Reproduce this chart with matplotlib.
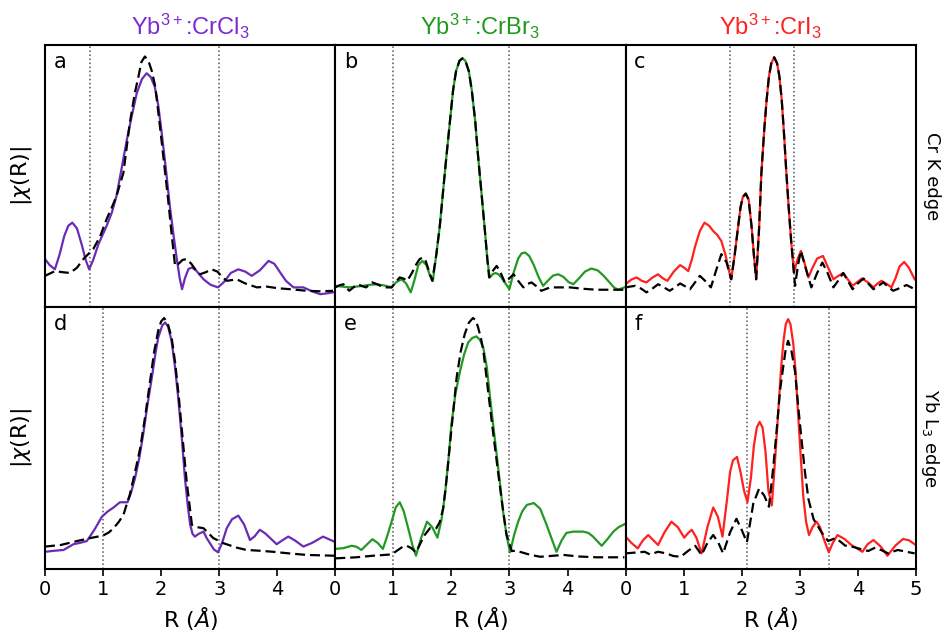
import numpy as np
import matplotlib.pyplot as plt

plt.rcParams['mathtext.fontset'] = 'dejavusans'
plt.rcParams['mathtext.rm'] = 'Liberation Sans'
plt.rcParams['mathtext.it'] = 'Liberation Sans:italic'

# Compounds (column titles) and edges (row labels)
compounds = ['Yb$^{\\mathregular{3+}}$:CrCl$_{\\mathregular{3}}$',
             'Yb$^{\\mathregular{3+}}$:CrBr$_{\\mathregular{3}}$',
             'Yb$^{\\mathregular{3+}}$:CrI$_{\\mathregular{3}}$']
colours = ['#6a2bb5', '#229922', '#ff2020']
title_colours = ['#7b2ad6', '#1f9a1f', '#ff2020']
edges = ['Cr K edge', 'Yb L$_3$ edge']
letters = ['a', 'b', 'c', 'd', 'e', 'f']

# Fit window limits (R, in Angstrom)
win_a = [0.78, 3.0]
win_b = [1.0, 3.0]
win_c = [1.8, 2.91]
win_d = [1.0, 3.0]
win_e = [1.0, 3.0]
win_f = [2.1, 3.5]

# |chi(R)| normalised to panel height: data (solid) and fit (dashed)
a_dat_r = [0, 0.08, 0.17, 0.25, 0.33, 0.40, 0.47, 0.55, 0.63, 0.70, 0.76, 0.83, 0.92, 1.06, 1.15,
           1.23, 1.32, 1.41, 1.50, 1.58, 1.67, 1.75, 1.82, 1.89, 1.95, 2.01, 2.08, 2.15, 2.21,
           2.27, 2.32, 2.36, 2.41, 2.47, 2.53, 2.6, 2.73, 2.85, 2.98, 3.08, 3.2, 3.33, 3.45, 3.56,
           3.7, 3.85, 3.95, 4.05, 4.15, 4.28, 4.45, 4.6, 4.74, 4.85, 4.96]
a_dat_y = [0.183, 0.16, 0.144, 0.2, 0.27, 0.31, 0.322, 0.30, 0.24, 0.18, 0.144, 0.18, 0.24, 0.309,
           0.36, 0.423, 0.53, 0.639, 0.735, 0.816, 0.87, 0.892, 0.878, 0.841, 0.77, 0.664, 0.53,
           0.385, 0.28, 0.183, 0.11, 0.068, 0.11, 0.145, 0.151, 0.14, 0.106, 0.085, 0.075, 0.095,
           0.13, 0.144, 0.135, 0.119, 0.14, 0.176, 0.165, 0.132, 0.1, 0.075, 0.075, 0.06, 0.049,
           0.052, 0.056]
a_fit_r = [0, 0.17, 0.3, 0.43, 0.55, 0.66, 0.83, 0.95, 1.06, 1.15, 1.23, 1.35, 1.46, 1.55, 1.61,
           1.66, 1.72, 1.78, 1.84, 1.9, 1.98, 2.05, 2.12, 2.18, 2.24, 2.3, 2.37, 2.44, 2.52, 2.6,
           2.67, 2.77, 2.87, 2.97, 3.05, 3.13, 3.22, 3.3, 3.45, 3.65, 3.82, 4.0, 4.22, 4.51, 4.75,
           4.96]
a_fit_y = [0.119, 0.137, 0.133, 0.13, 0.15, 0.183, 0.221, 0.27, 0.335, 0.38, 0.423, 0.512, 0.702,
           0.82, 0.88, 0.935, 0.956, 0.94, 0.9, 0.84, 0.689, 0.55, 0.411, 0.28, 0.157, 0.165, 0.18,
           0.183, 0.165, 0.14, 0.125, 0.133, 0.144, 0.135, 0.115, 0.1, 0.103, 0.106, 0.09, 0.075,
           0.078, 0.072, 0.068, 0.062, 0.06, 0.062]

b_dat_r = [0, 0.12, 0.24, 0.36, 0.48, 0.6, 0.71, 0.85, 0.97, 1.05, 1.14, 1.22, 1.3, 1.36, 1.43,
           1.5, 1.57, 1.63, 1.68, 1.74, 1.8, 1.86, 1.92, 1.98, 2.03, 2.08, 2.14, 2.19, 2.24, 2.3,
           2.35, 2.41, 2.46, 2.52, 2.58, 2.62, 2.66, 2.71, 2.76, 2.81, 2.86, 2.93, 3.0, 3.07, 3.15,
           3.21, 3.27, 3.34, 3.42, 3.5, 3.58, 3.66, 3.75, 3.84, 3.93, 4.02, 4.1, 4.2, 4.3, 4.41,
           4.52, 4.62, 4.72, 4.8, 4.87, 4.98]
b_dat_y = [0.081, 0.078, 0.075, 0.078, 0.081, 0.085, 0.087, 0.082, 0.075, 0.095, 0.106, 0.09, 0.056,
           0.1, 0.16, 0.176, 0.16, 0.12, 0.1, 0.2, 0.309, 0.45, 0.588, 0.72, 0.829, 0.9, 0.94,
           0.949, 0.94, 0.9, 0.829, 0.71, 0.575, 0.43, 0.284, 0.18, 0.113, 0.125, 0.13, 0.125,
           0.113, 0.09, 0.068, 0.13, 0.185, 0.205, 0.208, 0.195, 0.16, 0.115, 0.081, 0.1, 0.12,
           0.125, 0.115, 0.095, 0.087, 0.11, 0.135, 0.147, 0.14, 0.12, 0.095, 0.075, 0.066, 0.075]
b_fit_r = [0, 0.07, 0.14, 0.24, 0.38, 0.46, 0.53, 0.64, 0.74, 0.84, 0.97, 1.04, 1.11, 1.18, 1.24,
           1.32, 1.4, 1.45, 1.5, 1.55, 1.61, 1.67, 1.74, 1.8, 1.86, 1.92, 1.98, 2.03, 2.08, 2.14,
           2.19, 2.24, 2.3, 2.35, 2.41, 2.46, 2.52, 2.58, 2.62, 2.65, 2.72, 2.78, 2.85, 2.92, 3.0,
           3.07, 3.15, 3.24, 3.31, 3.38, 3.46, 3.55, 3.7, 3.85, 4.04, 4.25, 4.5, 4.75, 4.98]
b_fit_y = [0.075, 0.083, 0.087, 0.062, 0.087, 0.08, 0.075, 0.094, 0.085, 0.075, 0.075, 0.095, 0.113,
           0.108, 0.1, 0.13, 0.165, 0.182, 0.189, 0.18, 0.14, 0.1, 0.2, 0.309, 0.45, 0.588, 0.72,
           0.829, 0.9, 0.94, 0.949, 0.94, 0.9, 0.829, 0.71, 0.575, 0.43, 0.284, 0.18, 0.113, 0.14,
           0.157, 0.13, 0.094, 0.11, 0.125, 0.1, 0.075, 0.088, 0.094, 0.08, 0.062, 0.075, 0.075,
           0.075, 0.07, 0.066, 0.066, 0.066]

c_dat_r = [0, 0.1, 0.19, 0.28, 0.36, 0.46, 0.56, 0.64, 0.72, 0.83, 0.94, 1.01, 1.08, 1.14, 1.2,
           1.28, 1.36, 1.44, 1.51, 1.58, 1.65, 1.72, 1.78, 1.82, 1.88, 1.94, 1.98, 2.02, 2.07, 2.12,
           2.17, 2.21, 2.25, 2.3, 2.34, 2.39, 2.43, 2.47, 2.51, 2.56, 2.61, 2.65, 2.69, 2.73, 2.77,
           2.81, 2.85, 2.9, 2.96, 3.02, 3.08, 3.15, 3.22, 3.3, 3.4, 3.49, 3.58, 3.66, 3.75, 3.83,
           3.91, 3.99, 4.07, 4.17, 4.27, 4.34, 4.41, 4.5, 4.58, 4.65, 4.72, 4.8, 4.88, 4.98]
c_dat_y = [0.087, 0.105, 0.113, 0.1, 0.094, 0.112, 0.125, 0.11, 0.1, 0.135, 0.16, 0.15, 0.137, 0.18,
           0.233, 0.29, 0.322, 0.31, 0.29, 0.275, 0.252, 0.2, 0.14, 0.106, 0.2, 0.309, 0.38, 0.42,
           0.433, 0.41, 0.309, 0.2, 0.106, 0.3, 0.512, 0.68, 0.791, 0.88, 0.93, 0.953, 0.93, 0.88,
           0.791, 0.66, 0.512, 0.38, 0.259, 0.132, 0.18, 0.214, 0.17, 0.113, 0.15, 0.185, 0.195,
           0.15, 0.106, 0.118, 0.13, 0.105, 0.081, 0.095, 0.109, 0.095, 0.075, 0.09, 0.1, 0.088,
           0.075, 0.11, 0.155, 0.172, 0.15, 0.106]
c_fit_r = [0, 0.08, 0.17, 0.27, 0.36, 0.46, 0.56, 0.66, 0.76, 0.85, 0.94, 1.02, 1.11, 1.2, 1.28,
           1.37, 1.47, 1.56, 1.65, 1.74, 1.82, 1.88, 1.94, 1.98, 2.02, 2.07, 2.12, 2.17, 2.21, 2.25,
           2.3, 2.34, 2.39, 2.43, 2.47, 2.51, 2.56, 2.61, 2.65, 2.69, 2.73, 2.77, 2.81, 2.85, 2.92,
           2.97, 3.02, 3.1, 3.2, 3.3, 3.39, 3.48, 3.58, 3.66, 3.75, 3.83, 3.91, 4.0, 4.1, 4.18,
           4.27, 4.35, 4.44, 4.52, 4.61, 4.72, 4.84, 4.98]
c_fit_y = [0.075, 0.078, 0.081, 0.07, 0.056, 0.07, 0.087, 0.075, 0.062, 0.075, 0.09, 0.08, 0.068,
           0.095, 0.119, 0.1, 0.075, 0.14, 0.202, 0.17, 0.106, 0.2, 0.309, 0.38, 0.42, 0.433, 0.41,
           0.309, 0.2, 0.106, 0.3, 0.512, 0.68, 0.791, 0.88, 0.93, 0.953, 0.93, 0.88, 0.791, 0.66,
           0.512, 0.38, 0.259, 0.081, 0.16, 0.214, 0.15, 0.075, 0.13, 0.17, 0.13, 0.075, 0.1, 0.13,
           0.1, 0.068, 0.09, 0.109, 0.09, 0.068, 0.08, 0.094, 0.078, 0.062, 0.072, 0.084, 0.068]

d_dat_r = [0, 0.16, 0.32, 0.49, 0.6, 0.72, 0.85, 0.98, 1.08, 1.18, 1.29, 1.42, 1.48, 1.55, 1.62,
           1.69, 1.76, 1.84, 1.9, 1.95, 2.02, 2.07, 2.12, 2.18, 2.24, 2.3, 2.36, 2.41, 2.46, 2.5,
           2.54, 2.58, 2.65, 2.73, 2.78, 2.84, 2.91, 2.98, 3.05, 3.13, 3.22, 3.33, 3.43, 3.53, 3.61,
           3.7, 3.8, 3.99, 4.09, 4.19, 4.3, 4.45, 4.6, 4.79, 4.98]
d_dat_y = [0.066, 0.07, 0.073, 0.095, 0.1, 0.107, 0.15, 0.2, 0.22, 0.235, 0.255, 0.255, 0.29, 0.347,
           0.42, 0.513, 0.62, 0.731, 0.82, 0.884, 0.93, 0.941, 0.925, 0.87, 0.77, 0.641, 0.49,
           0.347, 0.24, 0.169, 0.135, 0.124, 0.135, 0.143, 0.12, 0.099, 0.075, 0.064, 0.1, 0.156,
           0.19, 0.204, 0.17, 0.111, 0.125, 0.15, 0.135, 0.095, 0.11, 0.124, 0.11, 0.086, 0.1,
           0.124, 0.105]
d_fit_r = [0, 0.27, 0.55, 0.77, 1.0, 1.1, 1.18, 1.27, 1.35, 1.46, 1.55, 1.64, 1.73, 1.81, 1.88,
           1.95, 2.0, 2.05, 2.11, 2.18, 2.24, 2.3, 2.37, 2.44, 2.53, 2.62, 2.73, 2.9, 3.07, 3.3,
           3.47, 3.7, 3.93, 4.2, 4.51, 4.98]
d_fit_y = [0.086, 0.092, 0.107, 0.118, 0.128, 0.14, 0.156, 0.18, 0.207, 0.284, 0.37, 0.462, 0.59,
           0.718, 0.83, 0.91, 0.945, 0.958, 0.94, 0.884, 0.79, 0.667, 0.5, 0.334, 0.169, 0.16,
           0.156, 0.118, 0.099, 0.082, 0.073, 0.07, 0.066, 0.06, 0.054, 0.051]

e_dat_r = [0, 0.14, 0.28, 0.37, 0.45, 0.55, 0.64, 0.73, 0.82, 0.9, 0.97, 1.04, 1.11, 1.18, 1.26,
           1.33, 1.39, 1.48, 1.58, 1.67, 1.76, 1.83, 1.89, 1.95, 2.0, 2.07, 2.15, 2.22, 2.29, 2.36,
           2.43, 2.49, 2.55, 2.61, 2.66, 2.72, 2.78, 2.84, 2.89, 2.95, 3.01, 3.08, 3.15, 3.22, 3.3,
           3.42, 3.53, 3.64, 3.72, 3.81, 3.9, 3.98, 4.1, 4.27, 4.36, 4.44, 4.52, 4.59, 4.69, 4.79,
           4.88, 4.98]
e_dat_y = [0.077, 0.08, 0.089, 0.085, 0.073, 0.095, 0.114, 0.1, 0.077, 0.13, 0.181, 0.235, 0.255,
           0.22, 0.152, 0.09, 0.051, 0.12, 0.181, 0.16, 0.12, 0.19, 0.284, 0.42, 0.552, 0.67, 0.756,
           0.82, 0.865, 0.882, 0.888, 0.875, 0.845, 0.77, 0.667, 0.55, 0.437, 0.32, 0.22, 0.13,
           0.064, 0.13, 0.181, 0.22, 0.245, 0.252, 0.23, 0.169, 0.12, 0.066, 0.11, 0.138, 0.143,
           0.143, 0.138, 0.124, 0.105, 0.089, 0.115, 0.143, 0.16, 0.171]
e_fit_r = [0, 0.36, 0.65, 0.97, 1.08, 1.16, 1.23, 1.31, 1.39, 1.47, 1.54, 1.63, 1.74, 1.8, 1.86,
           1.92, 1.98, 2.04, 2.09, 2.16, 2.23, 2.3, 2.37, 2.42, 2.46, 2.51, 2.55, 2.6, 2.66, 2.73,
           2.81, 2.88, 2.95, 3.04, 3.12, 3.21, 3.35, 3.53, 3.7, 3.93, 4.2, 4.51, 4.98]
e_fit_y = [0.041, 0.045, 0.051, 0.056, 0.073, 0.085, 0.089, 0.08, 0.064, 0.1, 0.13, 0.156, 0.156,
           0.18, 0.233, 0.35, 0.488, 0.62, 0.731, 0.83, 0.897, 0.94, 0.958, 0.95, 0.922, 0.88,
           0.833, 0.74, 0.628, 0.5, 0.36, 0.24, 0.13, 0.069, 0.07, 0.064, 0.055, 0.047, 0.05,
           0.054, 0.048, 0.045, 0.045]

f_dat_r = [0, 0.1, 0.21, 0.3, 0.39, 0.48, 0.56, 0.67, 0.79, 0.9, 1.01, 1.08, 1.14, 1.22, 1.31,
           1.41, 1.51, 1.59, 1.67, 1.75, 1.8, 1.85, 1.92, 1.98, 2.04, 2.1, 2.16, 2.21, 2.26, 2.31,
           2.36, 2.41, 2.46, 2.52, 2.57, 2.63, 2.68, 2.72, 2.76, 2.8, 2.84, 2.89, 2.93, 2.97, 3.02,
           3.06, 3.11, 3.16, 3.22, 3.29, 3.35, 3.41, 3.5, 3.57, 3.65, 3.77, 3.89, 4.08, 4.17, 4.27,
           4.4, 4.51, 4.65, 4.78, 4.88, 4.98]
f_dat_y = [0.124, 0.1, 0.079, 0.11, 0.13, 0.11, 0.092, 0.14, 0.181, 0.16, 0.12, 0.138, 0.15, 0.12,
           0.06, 0.16, 0.235, 0.2, 0.124, 0.27, 0.37, 0.415, 0.428, 0.37, 0.3, 0.255, 0.35, 0.47,
           0.54, 0.562, 0.54, 0.45, 0.3, 0.243, 0.4, 0.6, 0.77, 0.87, 0.935, 0.954, 0.935, 0.858,
           0.75, 0.6, 0.42, 0.281, 0.18, 0.13, 0.16, 0.181, 0.16, 0.118, 0.064, 0.1, 0.13, 0.115,
           0.092, 0.066, 0.095, 0.111, 0.085, 0.051, 0.09, 0.115, 0.11, 0.095]
f_fit_r = [0, 0.11, 0.22, 0.33, 0.42, 0.56, 0.7, 0.82, 0.95, 1.08, 1.2, 1.31, 1.41, 1.51, 1.6,
           1.68, 1.8, 1.91, 2.0, 2.09, 2.2, 2.3, 2.39, 2.47, 2.54, 2.6, 2.66, 2.72, 2.76, 2.8, 2.86,
           2.92, 2.97, 3.03, 3.09, 3.15, 3.24, 3.38, 3.49, 3.61, 3.7, 3.78, 3.95, 4.07, 4.18, 4.3,
           4.41, 4.52, 4.69, 4.84, 4.98]
f_fit_y = [0.06, 0.062, 0.064, 0.066, 0.056, 0.066, 0.06, 0.05, 0.047, 0.07, 0.089, 0.054, 0.1,
           0.13, 0.1, 0.06, 0.14, 0.192, 0.15, 0.102, 0.25, 0.307, 0.28, 0.238, 0.38, 0.523, 0.68,
           0.779, 0.84, 0.871, 0.83, 0.753, 0.63, 0.497, 0.37, 0.267, 0.19, 0.139, 0.107, 0.118,
           0.105, 0.09, 0.083, 0.075, 0.069, 0.082, 0.072, 0.06, 0.073, 0.066, 0.06]

panels = [(a_dat_r, a_dat_y, a_fit_r, a_fit_y, win_a),
          (b_dat_r, b_dat_y, b_fit_r, b_fit_y, win_b),
          (c_dat_r, c_dat_y, c_fit_r, c_fit_y, win_c),
          (d_dat_r, d_dat_y, d_fit_r, d_fit_y, win_d),
          (e_dat_r, e_dat_y, e_fit_r, e_fit_y, win_e),
          (f_dat_r, f_dat_y, f_fit_r, f_fit_y, win_f)]

fig, axs = plt.subplots(2, 3, figsize=(9.52, 6.38), dpi=100)
fig.subplots_adjust(left=0.0473, right=0.962, top=0.9295, bottom=0.108,
                    wspace=0, hspace=0)

for i, ax in enumerate(axs.flat):
    row, col = divmod(i, 3)
    dr, dy, fr, fy, win = panels[i]
    for w in win:
        ax.axvline(w, color='#555555', ls=':', lw=1.1, zorder=1)
    ax.plot(dr, dy, color=colours[col], lw=1.6, zorder=2)
    ax.plot(fr, fy, color='black', lw=1.6, ls=(0, (4.5, 2.2)), zorder=3)
    ax.set_xlim(0, 5)
    ax.set_ylim(0, 1)
    ax.set_yticks([])
    for s in ax.spines.values():
        s.set_linewidth(1.5)
    ax.text(0.03, 0.975, letters[i], transform=ax.transAxes, fontsize=15,
            va='top', ha='left')
    if row == 0:
        ax.set_xticks([])
        ax.set_title(compounds[col], color=title_colours[col], fontsize=17,
                     family='Liberation Sans', math_fontfamily='custom', pad=7)
    else:
        ax.set_xticks([0, 1, 2, 3, 4, 5] if col == 2 else [0, 1, 2, 3, 4])
        ax.tick_params(axis='x', direction='out', length=5, width=1.2,
                       labelsize=14, pad=3)
        ax.set_xlabel('R ($\\AA$)', fontsize=16, labelpad=4)
    if col == 0:
        ax.set_ylabel('$|\\chi$(R)$|$', fontsize=16, labelpad=8)
    if col == 2:
        ax.yaxis.set_label_position('right')
        ax.set_ylabel(edges[row], fontsize=13, rotation=270, labelpad=18)

fig.savefig('out.png', dpi=100)
